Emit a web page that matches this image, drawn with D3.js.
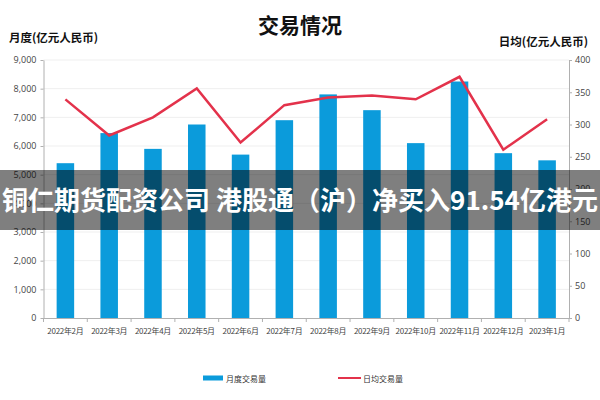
<!DOCTYPE html>
<html><head><meta charset="utf-8">
<script src="https://cdn.jsdelivr.net/npm/d3@7/dist/d3.min.js"></script>
<style>
html,body{margin:0;padding:0;background:#fff;}
svg{display:block;font-family:"Noto Sans CJK SC","Noto Sans",sans-serif;}
</style></head>
<body><svg id="c" width="600" height="400"></svg>
<script>
const categories = ["2022年2月","2022年3月","2022年4月","2022年5月","2022年6月","2022年7月","2022年8月","2022年9月","2022年10月","2022年11月","2022年12月","2023年1月"];
const monthlyVolume = [5400,6450,5900,6750,5700,6900,7800,7250,6100,8250,5750,5500];
const dailyVolume = [339,283,311,356,272,330,342,345,339,374,261,308];
const leftTicks = [0,1000,2000,3000,4000,5000,6000,7000,8000,9000];
const rightTicks = [0,50,100,150,200,250,300,350,400];
const titleText = "交易情况";
const leftTitle = "月度(亿元人民币)";
const rightTitle = "日均(亿元人民币)";
const legendLabels = ["月度交易量","日均交易量"];
const bannerText = "铜仁期货配资公司 港股通（沪）净买入91.54亿港元";

const svg = d3.select("#c");
const L = 43.5, R = 569, T = 60, B = 318;
const x = d3.scaleBand().domain(categories).range([L, R]).paddingInner(0.6).paddingOuter(0.3);
const yL = d3.scaleLinear().domain([0, 9000]).range([B, T]);
const yR = d3.scaleLinear().domain([0, 400]).range([B, T]);
const barColor = "#0b9bdb", lineColor = "#e3324b", axisColor = "#b0b0b0";

// gridlines
svg.append("g").selectAll("line").data(leftTicks.filter(d => d > 0)).join("line")
  .attr("x1", L).attr("x2", R).attr("y1", d => yL(d)).attr("y2", d => yL(d))
  .attr("stroke", "#efefef").attr("stroke-width", 1);

// bars
svg.append("g").selectAll("rect").data(monthlyVolume).join("rect")
  .attr("x", (d, i) => x(categories[i])).attr("width", x.bandwidth())
  .attr("y", d => yL(d)).attr("height", d => B - yL(d)).attr("fill", barColor);

// line
const line = d3.line().x((d, i) => x(categories[i]) + x.bandwidth() / 2).y(d => yR(d));
svg.append("path").datum(dailyVolume).attr("d", line).attr("fill", "none")
  .attr("stroke", lineColor).attr("stroke-width", 2.5).attr("stroke-linejoin", "miter");

// axes
const fmt = d3.format(",");
const gL = svg.append("g").attr("transform", `translate(${L},0)`)
  .call(d3.axisLeft(yL).tickValues(leftTicks).tickFormat(fmt).tickSize(3).tickSizeOuter(0));
const gR = svg.append("g").attr("transform", `translate(${R},0)`)
  .call(d3.axisRight(yR).tickValues(rightTicks).tickSize(3).tickSizeOuter(0));
const xAxis = d3.axisBottom(x).tickSize(0).tickSizeOuter(0);
const gX = svg.append("g").attr("transform", `translate(0,${B})`).call(xAxis);
// band boundary ticks
const step = x.step();
const bounds = d3.range(categories.length + 1).map(i => L + i * step);
gX.append("g").selectAll("line").data(bounds).join("line")
  .attr("x1", d => d).attr("x2", d => d).attr("y1", 0).attr("y2", 4).attr("stroke", axisColor);

[gL, gR, gX].forEach(g => {
  g.selectAll(".domain").attr("stroke", axisColor);
  g.selectAll(".tick line").attr("stroke", axisColor);
  g.selectAll("text").attr("fill", "#444").style("font-size", "9px")
    .style("font-family", "'Open Sans','Noto Sans CJK SC',sans-serif");
});
gL.selectAll("text").attr("x", -7);
gR.selectAll("text").attr("x", 6);
gX.selectAll("text").attr("dy", "1.6em").style("font-family", "'Noto Sans CJK SC',sans-serif")
  .style("font-size", "8px").style("letter-spacing", "-0.3px");

// titles
svg.append("text").attr("x", 300).attr("y", 33).attr("text-anchor", "middle")
  .style("font-size", "21px").style("font-weight", "bold").attr("fill", "#111").text(titleText);
svg.append("text").attr("x", 9).attr("y", 42)
  .style("font-size", "11.5px").style("font-weight", "bold").attr("fill", "#111").text(leftTitle);
svg.append("text").attr("x", 588).attr("y", 46).attr("text-anchor", "end")
  .style("font-size", "11.5px").style("font-weight", "bold").attr("fill", "#111").text(rightTitle);

// legend
const lg = svg.append("g");
lg.append("rect").attr("x", 203).attr("y", 375.5).attr("width", 20).attr("height", 5).attr("fill", barColor);
lg.append("text").attr("x", 226).attr("y", 381.5).style("font-size", "8px").attr("fill", "#333").text(legendLabels[0]);
lg.append("line").attr("x1", 338).attr("x2", 361).attr("y1", 378).attr("y2", 378).attr("stroke", lineColor).attr("stroke-width", 2);
lg.append("text").attr("x", 363).attr("y", 381.5).style("font-size", "8px").attr("fill", "#333").text(legendLabels[1]);

// banner overlay
svg.append("rect").attr("x", 0).attr("y", 170).attr("width", 600).attr("height", 60).attr("fill", "rgba(0,0,0,0.5)");
svg.append("text").attr("x", 300).attr("y", 210).attr("text-anchor", "middle")
  .attr("textLength", 596).attr("lengthAdjust", "spacingAndGlyphs")
  .style("font-size", "26px").style("font-weight", "bold").attr("fill", "#fff").text(bannerText);
</script></body></html>
